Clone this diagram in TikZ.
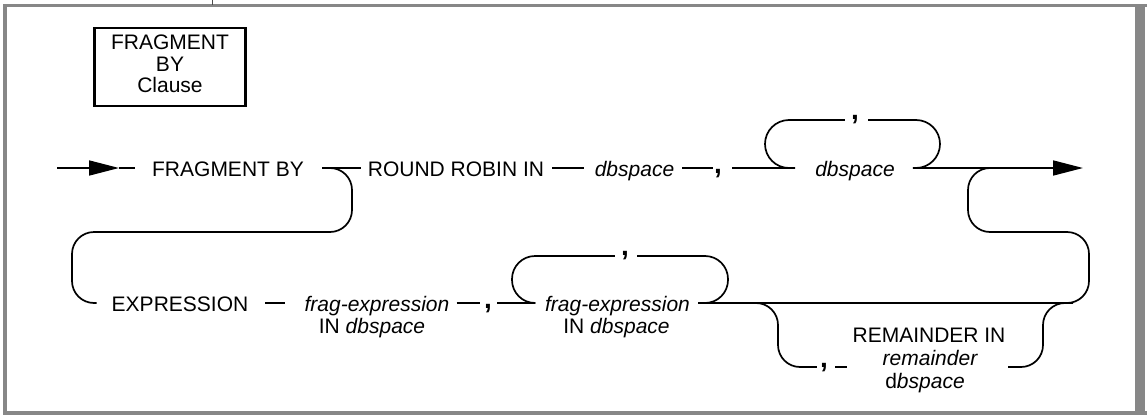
\documentclass[tikz,border=0pt]{standalone}
\usepackage{fontspec}
\setmainfont{Liberation Sans}
\usetikzlibrary{arrows.meta}
\begin{document}
\begin{tikzpicture}[x=1pt,y=-1pt,
  every node/.style={inner sep=0pt},
  lbl/.style={font=\fontsize{21}{25}\selectfont, text height=21pt, text depth=5pt},
  itl/.style={lbl, font=\fontsize{21}{25}\selectfont\itshape},
  cma/.style={font=\fontsize{28}{28}\selectfont\bfseries, text height=10pt, text depth=0pt},
  lcma/.style={font=\fontsize{28}{28}\selectfont\bfseries, text height=0pt, text depth=2pt},
  rcma/.style={font=\fontsize{28}{28}\selectfont\bfseries, text height=1pt, text depth=0pt},
  conn/.style={line width=1.7pt, line join=round},
  loopa/.style={conn, rounded corners=24pt},
  loopb/.style={conn, rounded corners=23pt},
  bendpath/.style={conn, rounded corners=22pt},
  arr/.style={conn, -{Triangle[length=30pt,width=15pt]}},
  framefill/.style={fill=black!47},
  titlebox/.style={draw, line width=2.6pt, minimum width=151.5pt, minimum height=78pt,
    align=center, font=\fontsize{21}{21.5}\selectfont, text depth=6pt}
]
\fill[white] (0,0) rectangle (1147,415);
\useasboundingbox (0,0) rectangle (1147,415);
% frame
\fill[framefill] (3,4) rectangle (1147,7);
\fill[framefill] (3,4) rectangle (7,415);
\fill[framefill] (1135,4) rectangle (1145,415);
\fill[framefill] (3,410.5) rectangle (1147,415);
\draw[line width=1pt, black!70] (212,0) -- (212,5);

% nodes
\node[titlebox] (title) at (170,67) {FRAGMENT\\BY\\Clause};
\node[lbl] (fb) at (228,168) {FRAGMENT BY};
\node[lbl] (rr) at (456,168) {ROUND ROBIN IN};
\node[itl] (db1) at (634.5,168) {dbspace};
\node[cma] (c1) at (718,168) {,};
\node[itl] (db2) at (855,168) {dbspace};
\node[lcma] (c2) at (855,120) {,};
\node[lbl] (ex) at (180,303) {EXPRESSION};
\node[itl] (fe1) at (377,303) {frag-expression};
\node[lbl] (in1) at (372,325) {IN \textit{dbspace}};
\node[cma] (c3) at (488,303) {,};
\node[itl] (fe2) at (617.5,303) {frag-expression};
\node[lbl] (in2) at (616.5,325) {IN \textit{dbspace}};
\node[lcma] (c4) at (625,256) {,};
\node[rcma] (c5) at (824,367) {,};
\node[lbl] (rm1) at (929,334) {REMAINDER IN};
\node[itl] (rm2) at (930,357) {remainder};
\node[lbl] (rm3) at (925,380) {d\textit{bspace}};

% coordinates
\coordinate (s0) at (57,168);
\coordinate (a0) at (119,168);
\coordinate (b1) at (352,168);
\coordinate (b2) at (352,232);
\coordinate (b3) at (72,232);
\coordinate (b4) at (72,303);
\coordinate (L1) at (765,168);
\coordinate (L2) at (765,120);
\coordinate (R1) at (940,120);
\coordinate (R2) at (940,168);
\coordinate (x1) at (1083,168);
\coordinate (k1) at (968,168);
\coordinate (k2) at (968,232);
\coordinate (k3) at (1089,232);
\coordinate (k4) at (1089,303);
\coordinate (j1) at (1067,303);
\coordinate (M1) at (512,303);
\coordinate (M2) at (512,256);
\coordinate (M3) at (728,256);
\coordinate (M4) at (728,303);
\coordinate (q0) at (778,303);
\coordinate (q1) at (778,367);
\coordinate (q2) at (1043,367);
\coordinate (q3) at (1043,303);
\coordinate (q4) at (1008,367);

% top row
\draw[arr] (s0) -- (a0);
\draw[conn] (a0) -- ([xshift=-17pt]fb.west);
\draw[conn] ([xshift=18pt]fb.east) -- ([xshift=-7pt]rr.west);
\draw[bendpath] ([xshift=18pt]fb.east) -- (b1) -- (b2) -- (b3) -- (b4) -- ([xshift=-15pt]ex.west);
\draw[conn] ([xshift=8pt]rr.east) -- ([xshift=-11pt]db1.west);
\draw[conn] ([xshift=8pt]db1.east) -- ([xshift=-1pt]c1.west);
\draw[conn] ([xshift=10pt]c1.east) -- ([xshift=-20pt]db2.west);
\draw[loopa] ([xshift=-20pt]db2.west) -- (L1) -- (L2) -- ([xshift=-6pt]c2.west);
\draw[loopa] ([xshift=9pt]c2.east) -- (R1) -- (R2) -- ([xshift=18pt]db2.east);
\draw[arr] ([xshift=18pt]db2.east) -- (x1);
\draw[bendpath] ([xshift=40pt]k1) -- (k1) -- (k2) -- (k3) -- (k4) -- ([xshift=-40pt]k4);

% middle row
\draw[conn] ([xshift=17pt]ex.east) -- ([xshift=-19pt]fe1.west);
\draw[conn] ([xshift=7pt]fe1.east) -- ([xshift=-4pt]c3.west);
\draw[conn] ([xshift=5pt]c3.east) -- ([xshift=-10pt]fe2.west);
\draw[loopb] ([xshift=-10pt]fe2.west) -- (M1) -- (M2) -- ([xshift=-6pt]c4.west);
\draw[loopb] ([xshift=8pt]c4.east) -- (M3) -- (M4) -- ([xshift=8pt]fe2.east);
\draw[conn] ([xshift=8pt]fe2.east) -- (j1);

% remainder
\draw[bendpath] ([xshift=-30pt]q0) -- (q0) -- (q1) -- ([xshift=-3pt]c5.west);
\draw[conn] ([xshift=7pt]c5.east) -- ([xshift=19pt]c5.east);
\draw[bendpath] (q4) -- (q2) -- (q3) -- ([xshift=30pt]q3);
\end{tikzpicture}
\end{document}
